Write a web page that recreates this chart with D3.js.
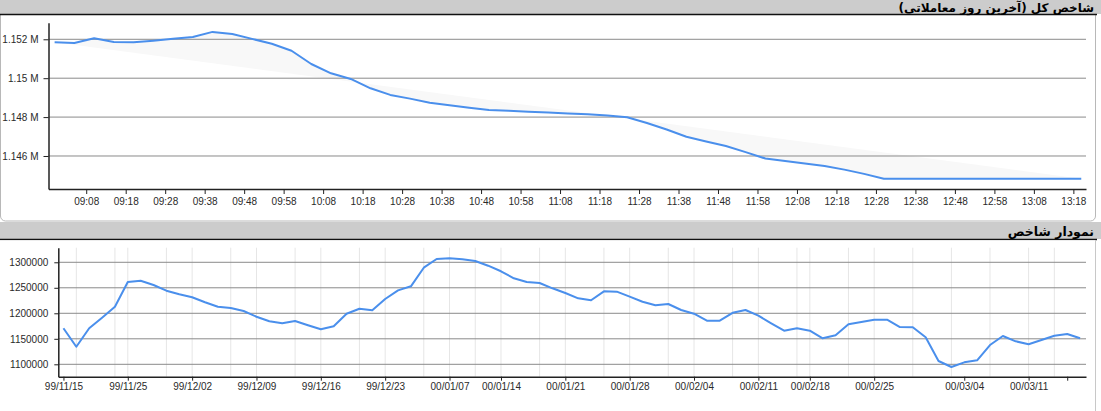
<!DOCTYPE html>
<html>
<head>
<meta charset="utf-8">
<script src="https://cdn.jsdelivr.net/npm/d3@7/dist/d3.min.js"></script>
<style>
  html, body { margin: 0; padding: 0; background: #fff; }
  svg { display: block; }
  .tick text { font-family: "Liberation Sans", Arial, sans-serif; font-size: 10px; fill: #2a2a2a; }
</style>
</head>
<body>
<svg id="chart" width="1101" height="411"></svg>
<script>
// ---------------- DATA ----------------
const topTitle = "شاخص کل (آخرین روز معاملاتی)";
const bottomTitle = "نمودار شاخص";

const topTimes = ["09:00","09:05","09:10","09:15","09:20","09:25","09:30","09:35","09:40","09:45",
  "09:50","09:55","10:00","10:05","10:10","10:15","10:20","10:25","10:30","10:35",
  "10:40","10:45","10:50","10:55","11:00","11:05","11:10","11:15","11:20","11:25",
  "11:30","11:35","11:40","11:45","11:50","11:55","12:00","12:05","12:10","12:15",
  "12:20","12:25","12:30","12:35","12:40","12:45","12:50","12:55","13:00","13:05",
  "13:10","13:15","13:20"];
const topValues = [1151850,1151810,1152050,1151860,1151850,1151930,1152030,1152120,1152380,1152270,
  1152020,1151770,1151410,1150730,1150250,1149960,1149480,1149140,1148950,1148740,
  1148610,1148480,1148370,1148330,1148280,1148240,1148190,1148140,1148080,1147990,
  1147700,1147360,1146990,1146750,1146510,1146200,1145870,1145740,1145610,1145490,
  1145300,1145080,1144830,1144830,1144830,1144830,1144830,1144830,1144830,1144830,
  1144830,1144830,1144830];
const topTickLabels = ["09:08","09:18","09:28","09:38","09:48","09:58","10:08","10:18","10:28","10:38",
  "10:48","10:58","11:08","11:18","11:28","11:38","11:48","11:58","12:08","12:18",
  "12:28","12:38","12:48","12:58","13:08","13:18"];
const topYTicks = [1146000, 1148000, 1150000, 1152000];

const bottomValues = [1170600,1134500,1170600,1191400,1212900,1261400,1263900,1255500,1244300,1237300,
  1231400,1221600,1212900,1210400,1204500,1193300,1184300,1180400,1185000,1176500,
  1168600,1174500,1199200,1209000,1205900,1228000,1245000,1252900,1289400,1306500,
  1307800,1305900,1302500,1293300,1282400,1268600,1261400,1259400,1249000,1239800,
  1229400,1225500,1243100,1242400,1232600,1222700,1215700,1218200,1206500,1199200,
  1185500,1185500,1201000,1206500,1195300,1180400,1165900,1170600,1165900,1151000,
  1156900,1178400,1182900,1187500,1187500,1173100,1172500,1152900,1106500,1094700,
  1103900,1107800,1137800,1155500,1145100,1139200,1147600,1156100,1159400,1151000];
const bottomTickIdx = [0,5,10,15,20,25,30,34,39,44,49,54,58,63,70,75,78];
const bottomTickLabels = ["99/11/15","99/11/25","99/12/02","99/12/09","99/12/16","99/12/23",
  "00/01/07","00/01/14","00/01/21","00/01/28","00/02/04","00/02/11","00/02/18","00/02/25",
  "00/03/04","00/03/11",""];
const bottomMinorIdx = [1,4,5,8,10,13,15,18,20,23,25,28,30,32,34,37,39,42,44,47,49,52,54,57,58,61,63,66,69,72,75,77];
const bottomYTicks = [1100000, 1150000, 1200000, 1250000, 1300000];

// ---------------- LAYOUT ----------------
const svg = d3.select("#chart");
const W = 1101;
const lineColor = "#4a8fec";
const gridColor = "#8a8a8a";

// top card
svg.append("rect").attr("x", 0.5).attr("y", 4).attr("width", 1095).attr("height", 217)
  .attr("rx", 5).attr("fill", "#fff").attr("stroke", "#b8b8b8");
// header bar top
svg.append("rect").attr("x", 0).attr("y", 0).attr("width", W).attr("height", 14).attr("fill", "#cccccc");
svg.append("line").attr("x1", 0).attr("x2", 1097).attr("y1", 14.5).attr("y2", 14.5)
  .attr("stroke", "#111").attr("stroke-width", 1.5);
svg.append("text").attr("x", 1094).attr("y", 12)
  .style("direction", "rtl").attr("text-anchor", "start")
  .attr("font-family", "DejaVu Sans, sans-serif").attr("font-size", 12).attr("font-weight", "bold").attr("fill", "#000")
  .text(topTitle);

// middle band
svg.append("rect").attr("x", 0).attr("y", 222).attr("width", W).attr("height", 17).attr("fill", "#cccccc");
svg.append("line").attr("x1", 0).attr("x2", 1097).attr("y1", 239.5).attr("y2", 239.5)
  .attr("stroke", "#111").attr("stroke-width", 1.5);
// bottom card
svg.append("rect").attr("x", 0).attr("y", 240.3).attr("width", 1095.5).attr("height", 175).attr("fill", "#fff");
svg.append("line").attr("x1", 1095.5).attr("x2", 1095.5).attr("y1", 240).attr("y2", 411).attr("stroke", "#c8c8c8");
svg.append("text").attr("x", 1094).attr("y", 236)
  .style("direction", "rtl").attr("text-anchor", "start")
  .attr("font-family", "DejaVu Sans, sans-serif").attr("font-size", 12.5).attr("font-weight", "bold").attr("fill", "#000")
  .text(bottomTitle);

// ---------------- TOP CHART ----------------
const toMin = s => { const p = s.split(":"); return +p[0] * 60 + +p[1]; };
const xT = d3.scaleLinear().domain([538.45, 801.2]).range([48.5, 1086]);
const yT = d3.scaleLinear().domain([1144303, 1152853]).range([189, 22.7]);
const topData = topTimes.map((t, i) => ({ m: toMin(t), v: topValues[i] }));

const gTop = svg.append("g");
// fill polygon (path closed back to the start)
gTop.append("path").datum(topData)
  .attr("d", d3.line().x(d => xT(d.m)).y(d => yT(d.v)))
  .attr("fill", "#f8f8f8").attr("stroke", "none");
// gridlines
gTop.selectAll("line.hg").data(topYTicks).join("line")
  .attr("x1", 48.5).attr("x2", 1086).attr("y1", d => yT(d)).attr("y2", d => yT(d))
  .attr("stroke", gridColor).attr("stroke-width", 1);
// line
gTop.append("path").datum(topData)
  .attr("d", d3.line().x(d => xT(d.m)).y(d => yT(d.v)))
  .attr("fill", "none").attr("stroke", lineColor).attr("stroke-width", 2).attr("stroke-linejoin", "round");
// axes
const axTx = gTop.append("g").attr("transform", "translate(0,189)")
  .call(d3.axisBottom(xT).tickValues(topTickLabels.map(toMin))
    .tickFormat((d, i) => topTickLabels[i]).tickSize(5).tickPadding(4).tickSizeOuter(0));
const axTy = gTop.append("g").attr("transform", "translate(48.5,0)")
  .call(d3.axisLeft(yT).tickValues(topYTicks)
    .tickFormat(d => (d / 1e6) + " M").tickSize(5).tickPadding(5).tickSizeOuter(0));
[axTx, axTy].forEach(a => {
  a.select(".domain").attr("stroke", "#222").attr("stroke-width", 1.5);
  a.selectAll(".tick line").attr("stroke", "#222");
});

// ---------------- BOTTOM CHART ----------------
const xB = d3.scaleLinear().domain([-0.4, 79.46]).range([58.3, 1086]);
const yB = d3.scaleLinear().domain([1075700, 1328600]).range([376.7, 247.7]);
const gBot = svg.append("g");
gBot.selectAll("line.vg").data(bottomMinorIdx).join("line")
  .attr("x1", d => xB(d)).attr("x2", d => xB(d)).attr("y1", 247.7).attr("y2", 376.7)
  .attr("stroke", "#e6e6e6").attr("stroke-width", 1);
gBot.selectAll("line.hg").data(bottomYTicks).join("line")
  .attr("x1", 58.3).attr("x2", 1086).attr("y1", d => yB(d)).attr("y2", d => yB(d))
  .attr("stroke", gridColor).attr("stroke-width", 1);
gBot.append("path").datum(bottomValues)
  .attr("d", d3.line().x((d, i) => xB(i)).y(d => yB(d)))
  .attr("fill", "none").attr("stroke", lineColor).attr("stroke-width", 2).attr("stroke-linejoin", "round");
const axBx = gBot.append("g").attr("transform", "translate(0,376.7)")
  .call(d3.axisBottom(xB).tickValues(bottomTickIdx)
    .tickFormat((d, i) => bottomTickLabels[i]).tickSize(4).tickPadding(2).tickSizeOuter(0));
const axBy = gBot.append("g").attr("transform", "translate(58.3,0)")
  .call(d3.axisLeft(yB).tickValues(bottomYTicks)
    .tickFormat(d3.format("d")).tickSize(4).tickPadding(6).tickSizeOuter(0));
[axBx, axBy].forEach(a => {
  a.select(".domain").attr("stroke", "#222").attr("stroke-width", 1.5);
  a.selectAll(".tick line").attr("stroke", "#222");
});
</script>
</body>
</html>
